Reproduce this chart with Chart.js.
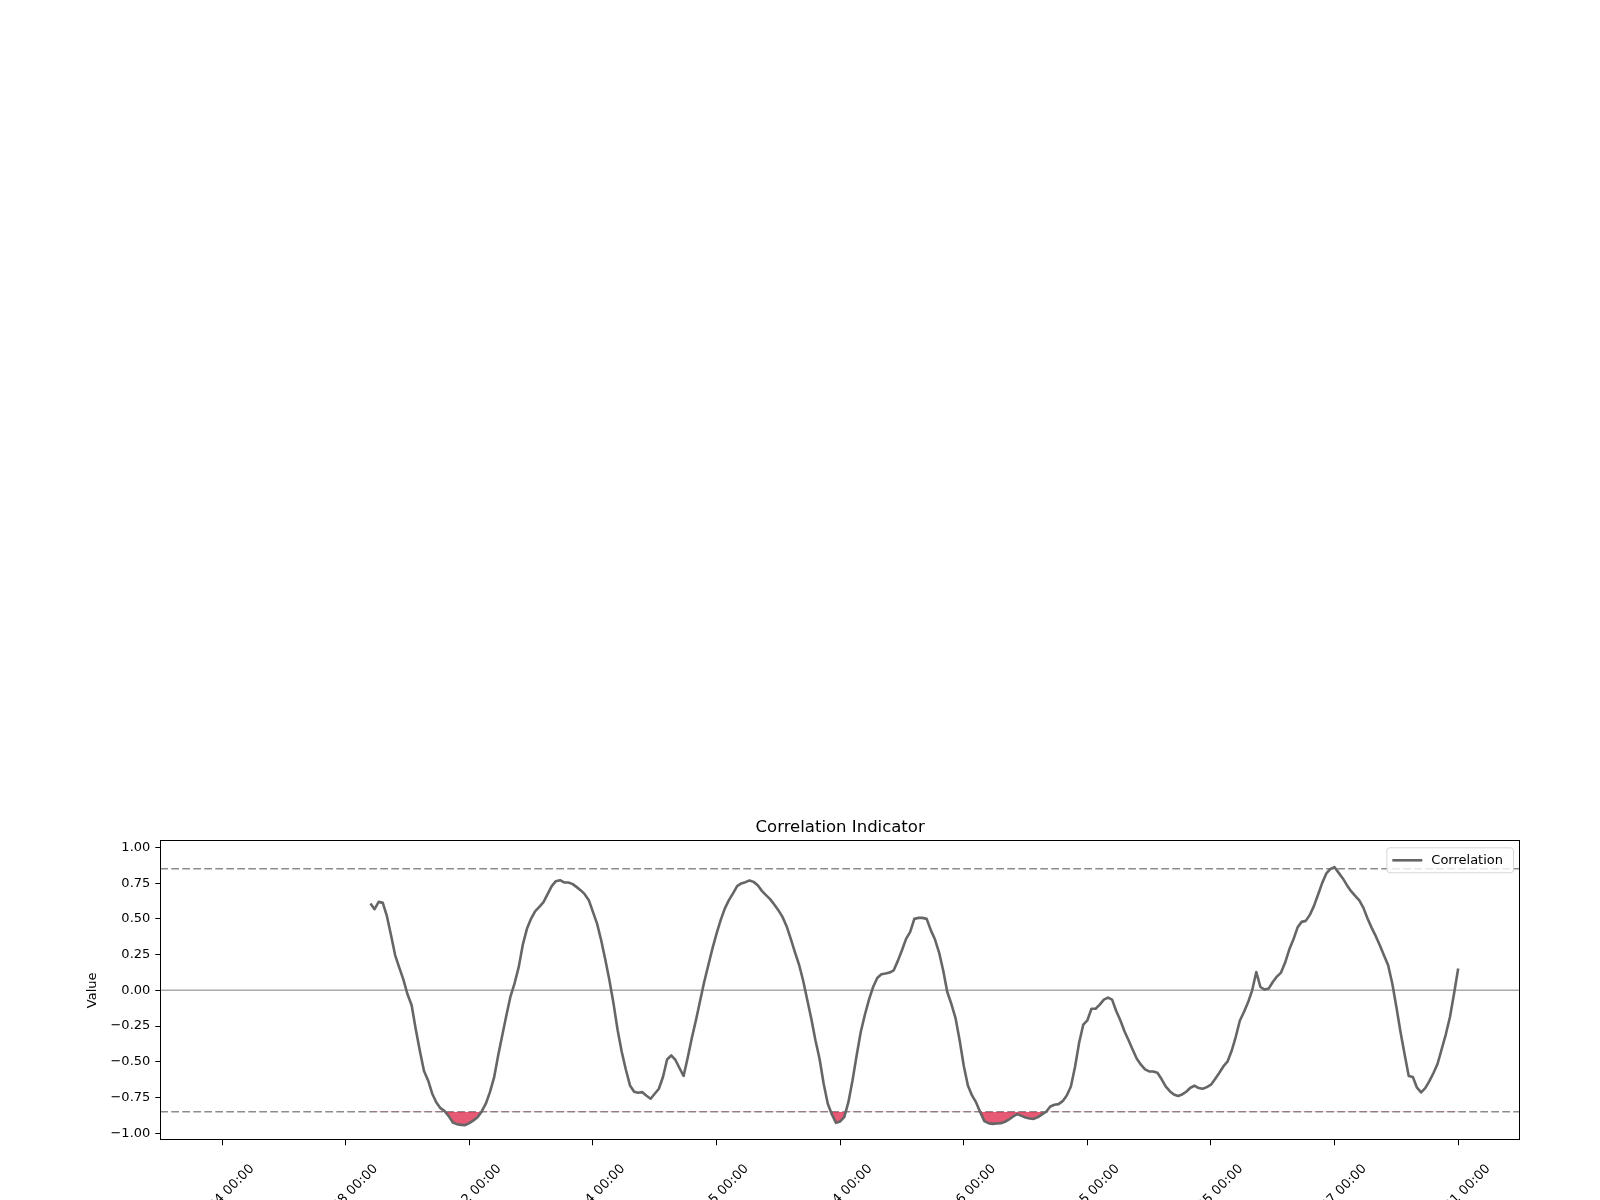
<!DOCTYPE html>
<html>
<head>
<meta charset="utf-8">
<script src="https://cdn.jsdelivr.net/npm/chart.js@4.4.1/dist/chart.umd.min.js"></script>
<style>
html, body { margin: 0; padding: 0; background: #fff; overflow: hidden; width: 1600px; height: 1200px; }
#frame { position: relative; width: 1600px; height: 1200px; overflow: hidden; }
#wrap { position: absolute; left: 0; top: 0; width: 1600px; height: 1260px; }
</style>
</head>
<body>
<div id="frame"><div id="wrap"><canvas id="corr_chart"></canvas></div></div>
<script>
// x positions of the labelled ticks (row index) and their text
var tickPositions = [0, 30, 60, 90, 120, 150, 180, 210, 240, 270, 300];
var tickLabels = ["2023-01-04 00:00", "2023-02-08 00:00", "2023-03-12 00:00", "2023-04-14 00:00",
                  "2023-05-15 00:00", "2023-06-14 00:00", "2023-07-16 00:00", "2023-08-15 00:00",
                  "2023-09-25 00:00", "2023-10-27 00:00", "2023-11-21 00:00"];
var yTicks = [-1, -0.75, -0.5, -0.25, 0, 0.25, 0.5, 0.75, 1];

var totalRows = 301;
var firstValid = 36;   // rolling window -> no value before this row
var corrValues = [
  0.607, 0.568, 0.619, 0.612, 0.519, 0.386, 0.245, 0.159, 0.075, -0.028,
  -0.105, -0.273, -0.425, -0.565, -0.631, -0.724, -0.785, -0.825, -0.846, -0.881,
  -0.925, -0.937, -0.942, -0.944, -0.930, -0.911, -0.888, -0.848, -0.794, -0.713,
  -0.612, -0.456, -0.315, -0.175, -0.042, 0.051, 0.164, 0.322, 0.432, 0.502,
  0.554, 0.584, 0.617, 0.673, 0.729, 0.764, 0.771, 0.755, 0.755, 0.745,
  0.724, 0.701, 0.673, 0.631, 0.549, 0.467, 0.350, 0.215, 0.070, -0.093,
  -0.280, -0.432, -0.556, -0.666, -0.710, -0.717, -0.713, -0.738, -0.759, -0.724,
  -0.689, -0.607, -0.484, -0.456, -0.486, -0.544, -0.600, -0.472, -0.334, -0.210,
  -0.075, 0.058, 0.175, 0.292, 0.397, 0.491, 0.572, 0.631, 0.678, 0.729,
  0.748, 0.757, 0.769, 0.759, 0.736, 0.696, 0.666, 0.638, 0.600, 0.561,
  0.514, 0.449, 0.362, 0.269, 0.182, 0.070, -0.065, -0.199, -0.350, -0.479,
  -0.654, -0.794, -0.869, -0.928, -0.918, -0.888, -0.783, -0.631, -0.456, -0.292,
  -0.171, -0.065, 0.023, 0.086, 0.112, 0.117, 0.124, 0.140, 0.206, 0.280,
  0.360, 0.409, 0.500, 0.507, 0.507, 0.500, 0.421, 0.357, 0.266, 0.140,
  -0.012, -0.096, -0.194, -0.350, -0.528, -0.666, -0.736, -0.785, -0.853, -0.916,
  -0.930, -0.935, -0.932, -0.930, -0.921, -0.904, -0.883, -0.867, -0.879, -0.890,
  -0.897, -0.900, -0.888, -0.869, -0.850, -0.813, -0.801, -0.797, -0.776, -0.736,
  -0.673, -0.537, -0.367, -0.241, -0.210, -0.129, -0.129, -0.100, -0.065, -0.051,
  -0.065, -0.145, -0.210, -0.287, -0.350, -0.416, -0.479, -0.521, -0.554, -0.568,
  -0.568, -0.577, -0.621, -0.673, -0.706, -0.729, -0.740, -0.729, -0.710, -0.682,
  -0.668, -0.684, -0.689, -0.678, -0.661, -0.621, -0.579, -0.533, -0.500, -0.425,
  -0.327, -0.213, -0.152, -0.084, 0.000, 0.128, 0.023, 0.005, 0.012, 0.058,
  0.096, 0.124, 0.194, 0.285, 0.355, 0.439, 0.479, 0.486, 0.528, 0.591,
  0.671, 0.752, 0.818, 0.850, 0.862, 0.822, 0.783, 0.736, 0.694, 0.661,
  0.629, 0.577, 0.502, 0.437, 0.379, 0.313, 0.243, 0.175, 0.047, -0.117,
  -0.292, -0.449, -0.600, -0.607, -0.682, -0.715, -0.685, -0.636, -0.579, -0.514,
  -0.411, -0.308, -0.187, -0.023, 0.152
];
var upperBand = 0.85;
var lowerBand = -0.85;

var points = [];
for (var i = 0; i < totalRows; i++) {
  var v = i < firstValid ? null : corrValues[i - firstValid];
  points.push({x: i, y: v === undefined ? null : v});
}

var tickFont = {family: "DejaVu Sans", size: 13};

// horizontal reference lines, drawn under the data line
var refLines = {
  id: "refLines",
  beforeDatasetsDraw: function(chart) {
    var ctx = chart.ctx, area = chart.chartArea, ys = chart.scales.y;
    ctx.save();
    ctx.lineWidth = 1.5;
    ctx.strokeStyle = "#aaaaaa";
    var y0 = ys.getPixelForValue(0);
    ctx.beginPath(); ctx.moveTo(area.left, y0); ctx.lineTo(area.right, y0); ctx.stroke();
    ctx.strokeStyle = "#8c8c8c";
    ctx.setLineDash([7.7, 3.3]);
    [upperBand, lowerBand].forEach(function(b) {
      var y = ys.getPixelForValue(b);
      ctx.beginPath(); ctx.moveTo(area.left, y); ctx.lineTo(area.right, y); ctx.stroke();
    });
    ctx.restore();
  }
};

// center the title over the plot area, not the whole canvas
var titleOverPlot = {
  id: "titleOverPlot",
  afterLayout: function(chart) {
    if (chart.titleBlock) {
      chart.titleBlock.left = chart.chartArea.left;
      chart.titleBlock.right = chart.chartArea.right;
    }
  }
};

// axes frame + legend box in the upper right corner
var frameLegend = {
  id: "frameLegend",
  afterDraw: function(chart) {
    var ctx = chart.ctx, area = chart.chartArea;
    ctx.save();
    ctx.strokeStyle = "#000";
    ctx.lineWidth = 1;
    ctx.strokeRect(Math.round(area.left) + 0.5, Math.round(area.top) + 0.5,
                   Math.round(area.right - area.left) - 1, Math.round(area.bottom - area.top) - 1);

    var ds = chart.data.datasets[0];
    ctx.font = "13px 'DejaVu Sans'";
    var tw = ctx.measureText(ds.label).width;
    var w = 6 + 30 + 9 + tw + 10, h = 25;
    var x = area.right - 7 - w, y = area.top + 7;
    ctx.beginPath();
    ctx.roundRect(x + 0.5, y + 0.5, w, h, 3);
    ctx.fillStyle = "rgba(255,255,255,0.8)";
    ctx.fill();
    ctx.strokeStyle = "rgba(204,204,204,0.8)";
    ctx.stroke();
    ctx.strokeStyle = ds.borderColor;
    ctx.lineWidth = ds.borderWidth;
    ctx.beginPath(); ctx.moveTo(x + 6, y + h / 2 + 0.5); ctx.lineTo(x + 36, y + h / 2 + 0.5); ctx.stroke();
    ctx.fillStyle = "#000";
    ctx.textBaseline = "middle";
    ctx.fillText(ds.label, x + 45, y + h / 2 + 1);
    ctx.restore();
  }
};

var ctxC = document.getElementById("corr_chart").getContext("2d");
var corrChart = new Chart(ctxC, {
  type: "line",
  data: {
    datasets: [{
      label: "Correlation",
      data: points,
      borderColor: "#666666",
      borderWidth: 2.6,
      borderJoinStyle: "round",
      pointRadius: 0,
      tension: 0,
      spanGaps: false,
      fill: {target: {value: lowerBand}, above: "rgba(0,0,0,0)", below: "rgba(220,20,60,0.7)"}
    }]
  },
  options: {
    responsive: true,
    maintainAspectRatio: false,
    animation: false,
    devicePixelRatio: 1,
    layout: {padding: {left: 81, right: 80, top: 816, bottom: 0}},
    plugins: {
      legend: {display: false},
      tooltip: {enabled: false},
      title: {
        display: true,
        text: "Correlation Indicator",
        color: "#000",
        font: {family: "DejaVu Sans", size: 16.5, weight: "normal"},
        padding: {top: 1.5, bottom: 3}
      }
    },
    scales: {
      x: {
        type: "linear",
        min: -15,
        max: 315,
        afterBuildTicks: function(s) { s.ticks = tickPositions.map(function(v) { return {value: v}; }); },
        afterFit: function(s) { s.height = 119.7; },
        grid: {display: true, drawOnChartArea: false, drawTicks: true, tickLength: 5, color: "#000"},
        border: {display: false},
        ticks: {
          autoSkip: false,
          maxRotation: 45,
          minRotation: 45,
          color: "#000",
          font: tickFont,
          padding: 16,
          labelOffset: 30,
          callback: function(v, idx) { return tickLabels[idx]; }
        }
      },
      y: {
        type: "linear",
        min: -1.05,
        max: 1.05,
        afterBuildTicks: function(s) { s.ticks = yTicks.map(function(v) { return {value: v}; }); },
        afterFit: function(s) { s.width = 79.3; },
        grid: {display: true, drawOnChartArea: false, drawTicks: true, tickLength: 5, color: "#000"},
        border: {display: false},
        title: {display: true, text: "Value", color: "#000", font: tickFont, padding: {top: 4, bottom: 4}},
        ticks: {
          color: "#000",
          font: tickFont,
          padding: 5,
          callback: function(v) { return v.toFixed(2).replace("-", "\u2212"); }
        }
      }
    }
  },
  plugins: [refLines, titleOverPlot, frameLegend]
});
</script>
</body>
</html>
